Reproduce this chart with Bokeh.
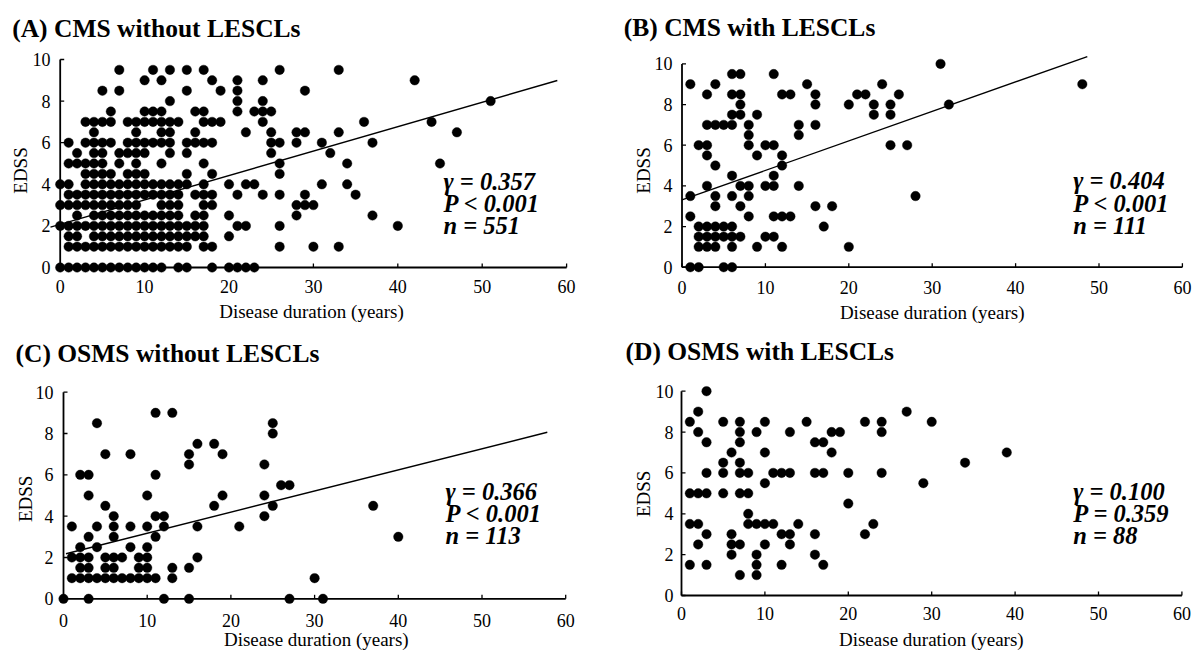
import math
from bokeh.plotting import figure
from bokeh.layouts import column, row
from bokeh.models import Range1d, Label, ColumnDataSource
from bokeh.embed import file_html
from bokeh.resources import INLINE

# ---------------- data ----------------
x_ticks = [0, 10, 20, 30, 40, 50, 60]
y_ticks = [0, 2, 4, 6, 8, 10]

titles = ["(A) CMS without LESCLs", "(B) CMS with LESCLs",
          "(C) OSMS without LESCLs", "(D) OSMS with LESCLs"]
x_label = "Disease duration (years)"
y_label = "EDSS"

# (A) CMS without LESCLs  (one line per EDSS level)
a_dur = [
    7, 11, 13, 15, 17, 26, 33,
    10, 12, 18, 21, 24, 42,
    5, 7, 15, 19, 21, 29,
    13, 21, 24, 51,
    6, 10, 11, 12, 16, 17, 21, 23, 24, 25,
    3, 4, 5, 6, 8, 9, 10, 11, 12, 13, 14, 17, 18, 19, 24, 36, 44,
    4, 9, 12, 13, 16, 22, 25, 28, 29, 33, 47,
    1, 3, 4, 5, 6, 8, 9, 10, 11, 12, 13, 15, 16, 17, 18, 25, 26, 28, 31, 37,
    2, 4, 5, 7, 8, 9, 10, 13, 15, 25, 32,
    1, 2, 3, 4, 5, 7, 9, 12, 17, 26, 34, 45,
    3, 4, 5, 6, 8, 9, 10, 15, 18, 26,
    0, 1, 3, 4, 5, 6, 7, 8, 9, 10, 11, 12, 13, 14, 15, 17, 20, 22, 23, 31, 34,
    1, 2, 3, 4, 5, 6, 7, 8, 9, 10, 11, 12, 13, 14, 16, 17, 18, 21, 24, 26, 29, 35,
    0, 1, 2, 3, 4, 5, 6, 7, 8, 9, 12, 13, 14, 17, 18, 28, 29, 30,
    2, 4, 5, 6, 7, 8, 9, 10, 11, 12, 13, 14, 16, 17, 20, 28, 37,
    0, 1, 2, 3, 4, 5, 6, 7, 8, 9, 10, 11, 12, 13, 14, 15, 16, 17, 21, 22, 26, 40,
    1, 2, 4, 5, 6, 7, 8, 9, 10, 11, 12, 13, 14, 15, 16, 17, 20,
    1, 2, 3, 4, 5, 6, 7, 8, 9, 10, 11, 12, 13, 14, 15, 17, 18, 26, 30, 33,
    0, 1, 2, 3, 4, 5, 6, 7, 8, 9, 10, 11, 12, 14, 15, 18, 20, 21, 22, 23,
]
a_edss = [
    9.5, 9.5, 9.5, 9.5, 9.5, 9.5, 9.5,
    9, 9, 9, 9, 9, 9,
    8.5, 8.5, 8.5, 8.5, 8.5, 8.5,
    8, 8, 8, 8,
    7.5, 7.5, 7.5, 7.5, 7.5, 7.5, 7.5, 7.5, 7.5, 7.5,
    7, 7, 7, 7, 7, 7, 7, 7, 7, 7, 7, 7, 7, 7, 7, 7, 7,
    6.5, 6.5, 6.5, 6.5, 6.5, 6.5, 6.5, 6.5, 6.5, 6.5, 6.5,
    6, 6, 6, 6, 6, 6, 6, 6, 6, 6, 6, 6, 6, 6, 6, 6, 6, 6, 6, 6,
    5.5, 5.5, 5.5, 5.5, 5.5, 5.5, 5.5, 5.5, 5.5, 5.5, 5.5,
    5, 5, 5, 5, 5, 5, 5, 5, 5, 5, 5, 5,
    4.5, 4.5, 4.5, 4.5, 4.5, 4.5, 4.5, 4.5, 4.5, 4.5,
    4, 4, 4, 4, 4, 4, 4, 4, 4, 4, 4, 4, 4, 4, 4, 4, 4, 4, 4, 4, 4,
    3.5, 3.5, 3.5, 3.5, 3.5, 3.5, 3.5, 3.5, 3.5, 3.5, 3.5, 3.5, 3.5, 3.5, 3.5, 3.5, 3.5, 3.5, 3.5, 3.5, 3.5, 3.5,
    3, 3, 3, 3, 3, 3, 3, 3, 3, 3, 3, 3, 3, 3, 3, 3, 3, 3,
    2.5, 2.5, 2.5, 2.5, 2.5, 2.5, 2.5, 2.5, 2.5, 2.5, 2.5, 2.5, 2.5, 2.5, 2.5, 2.5, 2.5,
    2, 2, 2, 2, 2, 2, 2, 2, 2, 2, 2, 2, 2, 2, 2, 2, 2, 2, 2, 2, 2, 2,
    1.5, 1.5, 1.5, 1.5, 1.5, 1.5, 1.5, 1.5, 1.5, 1.5, 1.5, 1.5, 1.5, 1.5, 1.5, 1.5, 1.5,
    1, 1, 1, 1, 1, 1, 1, 1, 1, 1, 1, 1, 1, 1, 1, 1, 1, 1, 1, 1,
    0, 0, 0, 0, 0, 0, 0, 0, 0, 0, 0, 0, 0, 0, 0, 0, 0, 0, 0, 0,
]
a_fit_x = [-1.15, 58.9]
a_fit_y = [1.94, 8.99]
a_stats = ["\u03b3 = 0.357", "P < 0.001", "n = 551"]

# (B) CMS with LESCLs
b_dur = [
    31,
    6, 7, 11,
    1, 4, 15, 24, 48,
    3, 6, 7, 12, 13, 16, 21, 22, 26,
    7, 16, 20, 23, 25, 32,
    6, 7, 9, 23, 25,
    3, 4, 5, 6, 8, 14, 16,
    8, 14,
    2, 3, 8, 10, 11, 25, 27,
    3, 9, 12,
    4, 12,
    6, 11,
    3, 7, 8, 10, 11, 14,
    1, 4, 6, 8, 28,
    4, 7, 16, 18,
    1, 8, 11, 12, 13,
    2, 3, 4, 5, 6, 17,
    2, 3, 4, 5, 6, 7, 10, 11,
    2, 3, 4, 6, 9, 12, 20,
    1, 2, 5, 6,
]
b_edss = [
    10,
    9.5, 9.5, 9.5,
    9, 9, 9, 9, 9,
    8.5, 8.5, 8.5, 8.5, 8.5, 8.5, 8.5, 8.5, 8.5,
    8, 8, 8, 8, 8, 8,
    7.5, 7.5, 7.5, 7.5, 7.5,
    7, 7, 7, 7, 7, 7, 7,
    6.5, 6.5,
    6, 6, 6, 6, 6, 6, 6,
    5.5, 5.5, 5.5,
    5, 5,
    4.5, 4.5,
    4, 4, 4, 4, 4, 4,
    3.5, 3.5, 3.5, 3.5, 3.5,
    3, 3, 3, 3,
    2.5, 2.5, 2.5, 2.5, 2.5,
    2, 2, 2, 2, 2, 2,
    1.5, 1.5, 1.5, 1.5, 1.5, 1.5, 1.5, 1.5,
    1, 1, 1, 1, 1, 1, 1,
    0, 0, 0, 0,
]
b_fit_x = [0, 48.6]
b_fit_y = [3.31, 10.36]
b_stats = ["\u03b3 = 0.404", "P < 0.001", "n = 111"]

# (C) OSMS without LESCLs
c_dur = [
    11, 13,
    4, 25,
    25,
    16, 18,
    5, 8, 15, 19,
    15, 24,
    2, 3, 11,
    26, 27,
    3, 10, 19, 24,
    5, 18, 25, 37,
    6, 11, 12, 24,
    1, 4, 6, 8, 10, 12, 16, 21,
    3, 6, 11, 40,
    2, 4, 8, 10,
    1, 2, 3, 5, 6, 7, 9, 10, 16,
    2, 3, 5, 6, 9, 10, 13, 15,
    1, 2, 3, 4, 5, 6, 7, 8, 9, 10, 11, 13, 30,
    0, 3, 12, 15, 27, 31,
]
c_edss = [
    9, 9,
    8.5, 8.5,
    8,
    7.5, 7.5,
    7, 7, 7, 7,
    6.5, 6.5,
    6, 6, 6,
    5.5, 5.5,
    5, 5, 5, 5,
    4.5, 4.5, 4.5, 4.5,
    4, 4, 4, 4,
    3.5, 3.5, 3.5, 3.5, 3.5, 3.5, 3.5, 3.5,
    3, 3, 3, 3,
    2.5, 2.5, 2.5, 2.5,
    2, 2, 2, 2, 2, 2, 2, 2, 2,
    1.5, 1.5, 1.5, 1.5, 1.5, 1.5, 1.5, 1.5,
    1, 1, 1, 1, 1, 1, 1, 1, 1, 1, 1, 1, 1,
    0, 0, 0, 0, 0, 0,
]
c_fit_x = [0.3, 57.8]
c_fit_y = [2.18, 8.06]
c_stats = ["\u03b3 = 0.366", "P < 0.001", "n = 113"]

# (D) OSMS with LESCLs
d_dur = [
    3,
    2, 27,
    1, 5, 7, 10, 15, 22, 24, 30,
    2, 7, 9, 13, 18, 19, 24,
    3, 7, 16, 17,
    6, 10, 18, 39,
    5, 7, 34,
    3, 5, 7, 8, 11, 12, 13, 16, 17, 20, 24,
    10, 29,
    1, 2, 3, 5, 7, 8,
    20,
    8,
    1, 2, 8, 9, 10, 11, 14, 23,
    3, 6, 12, 13, 16, 22,
    2, 6, 7, 10, 13,
    6, 9, 16,
    1, 3, 9, 12, 17,
    7, 9,
]
d_edss = [
    10,
    9, 9,
    8.5, 8.5, 8.5, 8.5, 8.5, 8.5, 8.5, 8.5,
    8, 8, 8, 8, 8, 8, 8,
    7.5, 7.5, 7.5, 7.5,
    7, 7, 7, 7,
    6.5, 6.5, 6.5,
    6, 6, 6, 6, 6, 6, 6, 6, 6, 6, 6,
    5.5, 5.5,
    5, 5, 5, 5, 5, 5,
    4.5,
    4,
    3.5, 3.5, 3.5, 3.5, 3.5, 3.5, 3.5, 3.5,
    3, 3, 3, 3, 3, 3,
    2.5, 2.5, 2.5, 2.5, 2.5,
    2, 2, 2,
    1.5, 1.5, 1.5, 1.5, 1.5,
    1, 1,
]
d_stats = ["\u03b3 = 0.100", "P = 0.359", "n = 88"]

for _d, _e in ((a_dur, a_edss), (b_dur, b_edss), (c_dur, c_edss), (d_dur, d_edss)):
    assert len(_d) == len(_e), (len(_d), len(_e))

# ---------------- drawing ----------------
SERIF = "Liberation Serif"
W_LEFT, W_RIGHT = 596, 596
H_TOP, H_BOT = 328, 324


def panel(ox, oy, W, H, cal, title, title_xy, dur, edss, fit_x, fit_y,
          stats, stats_xy, ylab_xy, xlab_xy, xtick_off, ytick_off):
    # cal = (screen x of duration 0, px per year, screen y of EDSS 0, px per EDSS unit)
    x0s, xs, y0s, ys = cal

    def dx(sx):
        return (sx - x0s) / xs

    def dy(sy):
        return (y0s - sy) / ys

    p = figure(width=W, height=H,
               x_range=Range1d(dx(ox), dx(ox + W)),
               y_range=Range1d(dy(oy + H), dy(oy)),
               x_axis_type=None, y_axis_type=None, title_location=None,
               output_backend="svg", toolbar_location=None, min_border=0)
    p.outline_line_color = None
    p.background_fill_color = "white"
    p.border_fill_color = "white"

    # axes (drawn in data space so that dots on the axes are not clipped)
    p.line([x_ticks[0], x_ticks[-1]], [0, 0], line_color="black", line_width=1.8)
    p.line([0, 0], [y_ticks[0], y_ticks[-1]], line_color="black", line_width=1.8)
    p.segment(x0=x_ticks, y0=[0] * len(x_ticks), x1=x_ticks,
              y1=[4.0 / ys] * len(x_ticks), line_color="black", line_width=1.3)
    p.segment(x0=[0] * len(y_ticks), y0=y_ticks, x1=[4.0 / xs] * len(y_ticks),
              y1=y_ticks, line_color="black", line_width=1.3)
    p.text(x=x_ticks, y=[0] * len(x_ticks), text=[str(t) for t in x_ticks],
           y_offset=xtick_off, text_align="center", text_baseline="middle",
           text_font={"value": SERIF}, text_font_size={"value": "18px"},
           text_color="black")
    p.text(x=[0] * len(y_ticks), y=y_ticks, text=[str(t) for t in y_ticks],
           x_offset=-ytick_off, text_align="right", text_baseline="middle",
           text_font={"value": SERIF}, text_font_size={"value": "18px"},
           text_color="black")

    # data
    src = ColumnDataSource(dict(dur=dur, edss=edss))
    p.scatter(x="dur", y="edss", source=src, marker="circle", size=9.5,
              fill_color="black", line_color="black", line_width=0.4)
    if fit_x is not None:
        p.line(fit_x, fit_y, line_color="black", line_width=1.4)

    # texts
    p.add_layout(Label(x=dx(title_xy[0]), y=dy(title_xy[1]), text=title,
                       text_font=SERIF, text_font_size="25.5px",
                       text_font_style="bold", text_color="black",
                       text_align="left", text_baseline="middle"))
    sx, sys_ = stats_xy
    for txt, syy in zip(stats, sys_):
        p.add_layout(Label(x=dx(sx), y=dy(syy), text=txt, text_font=SERIF,
                           text_font_size="24.5px", text_font_style="bold italic",
                           text_color="black", text_align="left",
                           text_baseline="middle"))
    p.add_layout(Label(x=dx(ylab_xy[0]), y=dy(ylab_xy[1]), text=y_label,
                       angle=math.pi / 2, text_font=SERIF, text_font_size="19px",
                       text_color="black", text_align="center",
                       text_baseline="middle"))
    p.add_layout(Label(x=dx(xlab_xy[0]), y=dy(xlab_xy[1]), text=x_label,
                       text_font=SERIF, text_font_size="19px", text_color="black",
                       text_align="center", text_baseline="middle"))
    return p


pa = panel(0, 0, W_LEFT, H_TOP, (59.7, 8.44, 267.0, 20.8),
           titles[0], (11.7, 27.5), a_dur, a_edss, a_fit_x, a_fit_y,
           a_stats, (443, [181, 203, 225]), (19.7, 170), (311, 311), 18.5, 9.7)
pb = panel(W_LEFT, 0, W_RIGHT, H_TOP, (681.5, 8.34, 266.7, 20.33),
           titles[1], (623.3, 26.7), b_dur, b_edss, b_fit_x, b_fit_y,
           b_stats, (1072.7, [180, 203, 225]), (642.8, 170), (931.7, 312), 20, 9.5)
pc = panel(0, H_TOP, W_LEFT, H_BOT, (63.0, 8.37, 598.3, 20.66),
           titles[2], (15, 352.5), c_dur, c_edss, c_fit_x, c_fit_y,
           c_stats, (445, [490.5, 513, 535]), (25, 498.3), (315.8, 639), 21.5, 10)
pd = panel(W_LEFT, H_TOP, W_RIGHT, H_BOT, (681.0, 8.34, 595.0, 20.43),
           titles[3], (625, 350.8), d_dur, d_edss, None, None,
           d_stats, (1072.7, [490.5, 513, 535]), (643.3, 493.3), (930.8, 639), 17.5, 8)

layout = column(row(pa, pb), row(pc, pd))
open("out.html", "w").write(file_html(layout, INLINE))
